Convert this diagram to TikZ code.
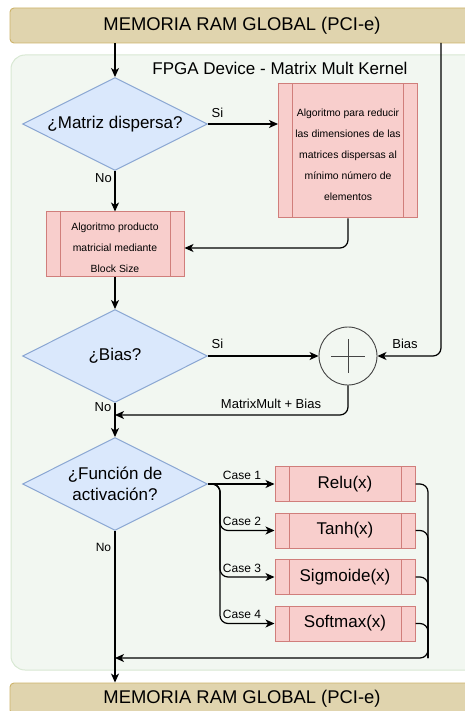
\documentclass[tikz,border=0pt]{standalone}
\usepackage{fontspec}
\setmainfont{Liberation Sans}
\usetikzlibrary{shapes.geometric,arrows.meta,calc}

\definecolor{barfill}{HTML}{E0D4AE}
\definecolor{barline}{HTML}{CDB36A}
\definecolor{fpgafill}{HTML}{F2F7F1}
\definecolor{fpgaline}{HTML}{D8E8D3}
\definecolor{decfill}{HTML}{DAE8FC}
\definecolor{decline}{HTML}{8AA6D2}
\definecolor{procfill}{HTML}{F8CECC}
\definecolor{procline}{HTML}{D07E7B}
\definecolor{sumline}{HTML}{444444}

% extra height on the first line pushes multi-line text a little lower
\newcommand\firstlinedrop{\rule{0pt}{15.5pt}}

\begin{document}
\begin{tikzpicture}[x=1pt,y=-1pt,
  ram/.style={draw=barline, fill=barfill, rounded corners=4pt, line width=0.9pt,
    minimum width=464pt, minimum height=35pt, inner sep=0pt,
    font=\fontsize{18.4}{22}\selectfont},
  container/.style={draw=fpgaline, fill=fpgafill, rounded corners=14pt, line width=1pt,
    inner sep=0pt},
  decision/.style={diamond, aspect=2, draw=decline, fill=decfill, line width=1pt,
    minimum width=185pt, minimum height=93pt, inner sep=0pt, align=center,
    font=\fontsize{17}{21}\selectfont},
  process/.style={rectangle, draw=procline, fill=procfill, line width=1pt,
    inner sep=0pt, align=center,
    path picture={\draw[procline, line width=1pt]
      ([xshift=14pt]path picture bounding box.north west) --
      ([xshift=14pt]path picture bounding box.south west)
      ([xshift=-14pt]path picture bounding box.north east) --
      ([xshift=-14pt]path picture bounding box.south east);}},
  algobox/.style={process, font=\fontsize{10.4}{21}\selectfont},
  funcbox/.style={process, minimum width=140pt, minimum height=35pt,
    font=\fontsize{17}{20}\selectfont},
  adder/.style={circle, draw=sumline, fill=fpgafill, line width=0.9pt,
    minimum size=58pt, inner sep=0pt},
  lbl/.style={inner sep=0pt, font=\fontsize{13}{15}\selectfont},
  caselbl/.style={inner sep=0pt, font=\fontsize{12}{14}\selectfont},
  wire/.style={draw=black, line width=1.2pt, rounded corners=8pt},
  flow/.style={wire, -{Stealth[length=9pt,width=8pt,inset=2.5pt]}}
]
\useasboundingbox (0,0) rectangle (465,711);
\clip (0,0) rectangle (465,711);

% FPGA kernel region
\node[container, minimum width=474pt, minimum height=615pt] (fpga) at (248,362.5) {};
\node[inner sep=0pt, font=\fontsize{17}{20}\selectfont] (fpgatitle) at (280,68)
  {FPGA Device - Matrix Mult Kernel};

% global memory, input and output
\node[ram] (ramin) at (242,25.5) {MEMORIA RAM GLOBAL (PCI-e)};
\node[ram, minimum height=31pt] (ramout) at (242,698.5) {MEMORIA RAM GLOBAL (PCI-e)};

% sparse matrix branch
\node[decision] (d1) at (115,124) {¿Matriz dispersa?};
\node[algobox, minimum width=139pt, minimum height=134pt] (reduce) at (348,151)
  {\firstlinedrop Algoritmo para reducir\\las dimensiones de las\\matrices dispersas al\\mínimo número de\\elementos};
\node[algobox, minimum width=138pt, minimum height=64pt] (blocksize) at (115,244)
  {\firstlinedrop Algoritmo producto\\matricial mediante\\Block Size};

% bias branch
\node[decision] (d2) at (115,356) {¿Bias?};
\node[adder] (sum) at (348,356) {};
\draw[sumline, line width=0.9pt]
  ([xshift=-17pt]sum.center) -- ([xshift=17pt]sum.center)
  ([yshift=17pt]sum.center) -- ([yshift=-17pt]sum.center);

% activation branch
\node[decision] (d3) at (115,484) {¿Función de\\activación?};
\node[funcbox] (relu) at (345,484) {Relu(x)};
\node[funcbox] (tanh) at (345,530.5) {Tanh(x)};
\node[funcbox] (sigm) at (345,577) {Sigmoide(x)};
\node[funcbox] (softmax) at (345,623.5) {Softmax(x)};

\coordinate (biastap) at (441,43);
\coordinate (mmjoin) at (115,415);
\coordinate (fork) at (220,484);
\coordinate (mergecorner) at (428,658);
\coordinate (mergeend) at (115,658);

% connectors
\draw[flow] (ramin.south -| d1.north) -- (d1.north);
\draw[flow] (d1.east) -- (d1.east -| reduce.west);
\node[lbl] (si1) at (217.5,113) {Si};
\draw[flow] (d1.south) -- (blocksize.north);
\node[lbl] (no1) at (103.5,178) {No};
\draw[flow] (reduce.south) |- ([yshift=-4pt]blocksize.east);
\draw[flow] (blocksize.south) -- (d2.north);

\draw[flow] (d2.east) -- (sum.west);
\node[lbl] (si2) at (217.5,344) {Si};
\draw[flow] (biastap) |- (sum.east);
\node[lbl] (biaslbl) at (405,344) {Bias};
\draw[flow] (sum.south) |- (mmjoin);
\node[lbl] (mmlbl) at (271,404) {MatrixMult + Bias};
\draw[flow] (d2.south) -- (d3.north);
\node[lbl] (no2) at (103,407) {No};

\draw[flow] (d3.east) -- (relu.west);
\draw[flow] (d3.east) -- (fork) |- (tanh.west);
\draw[flow] (d3.east) -- (fork) |- (sigm.west);
\draw[flow] (d3.east) -- (fork) |- (softmax.west);
\node[caselbl] (c1) at (242,475) {Case 1};
\node[caselbl] (c2) at (242,521.5) {Case 2};
\node[caselbl] (c3) at (242,568) {Case 3};
\node[caselbl] (c4) at (242,614.5) {Case 4};

\draw[wire] (relu.east) -| (mergecorner);
\draw[wire] (tanh.east) -| (mergecorner);
\draw[wire] (sigm.east) -| (mergecorner);
\draw[flow] (softmax.east) -| (mergecorner) -- (mergeend);

\draw[flow] (d3.south) -- (d3.south |- ramout.north);
\node[caselbl] (no3) at (103.5,547) {No};
\end{tikzpicture}
\end{document}
